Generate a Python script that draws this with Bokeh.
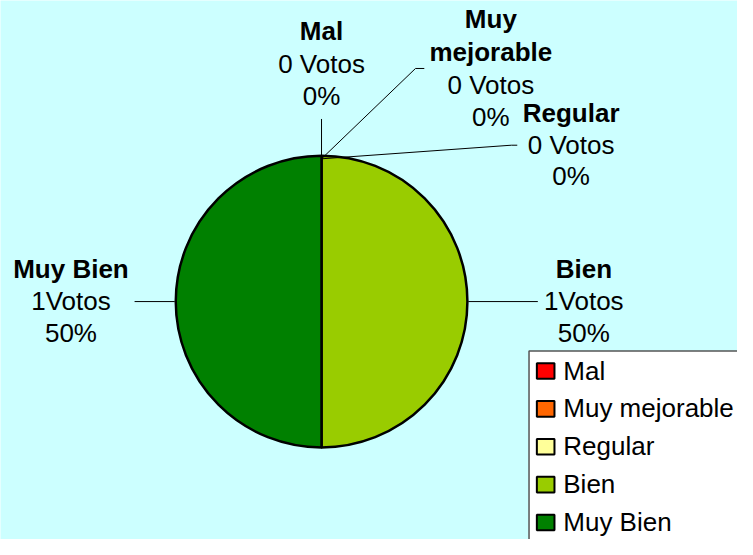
import numpy as np
from bokeh.plotting import figure
from bokeh.models import Range1d, ColumnDataSource
from bokeh.core.properties import value
from bokeh.embed import file_html
from bokeh.resources import INLINE

# ---- data ----
categories = ["Mal", "Muy mejorable", "Regular", "Bien", "Muy Bien"]
votes = [0, 0, 0, 1, 1]
colors = ["#FF0000", "#FF6600", "#FFFF99", "#99CC00", "#008000"]

# ---- layout (coordinates in the reference's 753x555 pixel frame) ----
W, H = 753, 555
def Y(py):
    return H - py

TXT_SHIFT = 9  # renderer places alphabetic baseline slightly lower

def TY(py):
    return H - (py - TXT_SHIFT)

FONT = "Liberation Sans"
FS = "26px"
BG = "#CCFFFF"

p = figure(width=737, height=539, output_backend="svg", toolbar_location=None,
           x_range=Range1d(0, W), y_range=Range1d(0, H),
           x_axis_type=None, y_axis_type=None, min_border=0,
           background_fill_color=BG, border_fill_color=BG)
p.grid.visible = False
p.outline_line_color = None

# ---- pie ----
cx, cy, r = 328, Y(310), 149
total = sum(votes)
fr = np.array(votes, dtype=float) / total
cum = np.concatenate([[0], np.cumsum(fr)])
start = np.pi / 2 - 2 * np.pi * cum[:-1]
end = np.pi / 2 - 2 * np.pi * cum[1:]
nz = [i for i, v in enumerate(votes) if v > 0]
src = ColumnDataSource(dict(start=[start[i] for i in nz], end=[end[i] for i in nz],
                            color=[colors[i] for i in nz]))
p.wedge(x=cx, y=cy, radius=r, start_angle="start", end_angle="end", direction="clock",
        fill_color="color", line_color="black", line_width=2.5, source=src)

# ---- leader lines ----
leaders = [
    [(328, 163), (328, 122)],
    [(328, 163), (424, 70), (433, 70)],
    [(328, 163), (522, 149), (528, 149)],
    [(478, 310), (549, 310)],
    [(178, 310), (137, 310)],
]
for pts in leaders:
    p.line([a for a, b in pts], [Y(b) for a, b in pts], line_color="black", line_width=1)

# ---- data labels ----
label_pos = [
    (328, [40], 74, 107),
    (501, [28, 62], 96, 129),
    (583, [125], 158, 190),
    (596, [285], 318, 351),
    (72, [285], 318, 351),
]
name_lines = [["Mal"], ["Muy", "mejorable"], ["Regular"], ["Bien"], ["Muy Bien"]]
bx, by, bt, nx, ny, nt = [], [], [], [], [], []
for i, (x, nb, vb, pb) in enumerate(label_pos):
    for t, b in zip(name_lines[i], nb):
        bx.append(x); by.append(TY(b)); bt.append(t)
    sep = " " if votes[i] == 0 else ""
    nx += [x, x]; ny += [TY(vb), TY(pb)]
    nt += [f"{votes[i]}{sep}Votos", f"{round(fr[i]*100)}%"]
p.text(x=bx, y=by, text=bt, text_font=value(FONT), text_font_size=FS, text_font_style="bold",
       text_align="center", text_baseline="alphabetic", text_color="black")
p.text(x=nx, y=ny, text=nt, text_font=value(FONT), text_font_size=FS,
       text_align="center", text_baseline="alphabetic", text_color="black")

# ---- legend ----
p.quad(left=540, right=780, top=Y(361), bottom=Y(590), fill_color="white",
       line_color="#555555", line_width=1.5)
ly = [381.5 + 39.0 * k for k in range(len(categories))]
p.rect(x=[557] * len(categories), y=[Y(v) for v in ly], width=18, height=16,
       fill_color=colors, line_color="black", line_width=2)
p.text(x=[575] * len(categories), y=[TY(v + 8.5) for v in ly], text=categories,
       text_font=value(FONT), text_font_size=FS, text_align="left",
       text_baseline="alphabetic", text_color="black")

open("out.html", "w").write(file_html(p, INLINE))
